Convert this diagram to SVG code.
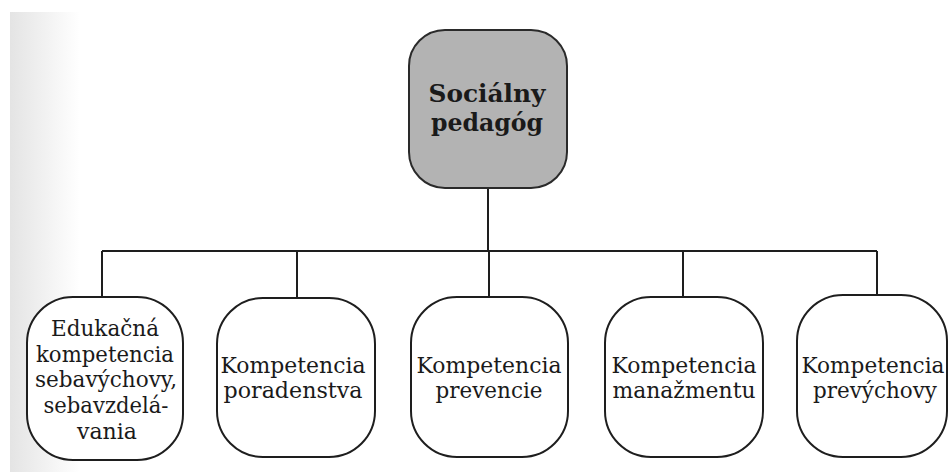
<svg xmlns="http://www.w3.org/2000/svg" width="949" height="472" viewBox="0 0 949 472">
<defs>
<linearGradient id="scan" x1="0" y1="0" x2="1" y2="0">
<stop offset="0" stop-color="#e4e4e4"/>
<stop offset="1" stop-color="#ffffff"/>
</linearGradient>
<style>
.box{fill:#ffffff;stroke:#1e1e1e;stroke-width:2}
.root{fill:#b3b3b3;stroke:#2a2a2a;stroke-width:2}
.t{font-family:"DejaVu Serif","Liberation Serif",serif;font-size:22px;fill:#1a1a1a;text-anchor:middle}
.tb{font-family:"DejaVu Serif","Liberation Serif",serif;font-size:25px;font-weight:bold;fill:#1a1a1a;text-anchor:middle}
.c{fill:none;stroke:#1e1e1e;stroke-width:2}
</style>
</defs>
<rect x="0" y="0" width="949" height="472" fill="#ffffff"/>
<rect x="10" y="12" width="70" height="460" fill="url(#scan)"/>
<g id="connectors">
<path class="c" d="M488 188 V251"/>
<path class="c" d="M102 251 H877"/>
<path class="c" d="M102 251 V297"/>
<path class="c" d="M297 251 V298"/>
<path class="c" d="M489 251 V297"/>
<path class="c" d="M683 251 V297"/>
<path class="c" d="M877 251 V295"/>
</g>
<g id="root">
<rect class="root" x="409" y="30" width="158" height="158" rx="36" ry="36"/>
<text class="tb" x="487" y="102" textLength="117" lengthAdjust="spacingAndGlyphs">Sociálny</text>
<text class="tb" x="487" y="131" textLength="112" lengthAdjust="spacingAndGlyphs">pedagóg</text>
</g>
<g id="n1">
<rect class="box" x="27" y="297" width="156" height="163" rx="46" ry="46"/>
<text class="t" x="105" y="336" textLength="108" lengthAdjust="spacingAndGlyphs">Edukačná</text>
<text class="t" x="105" y="362" textLength="138" lengthAdjust="spacingAndGlyphs">kompetencia</text>
<text class="t" x="106" y="387" textLength="142" lengthAdjust="spacingAndGlyphs">sebavýchovy,</text>
<text class="t" x="106" y="413" textLength="125" lengthAdjust="spacingAndGlyphs">sebavzdelá-</text>
<text class="t" x="107" y="439" textLength="60" lengthAdjust="spacingAndGlyphs">vania</text>
</g>
<g id="n2">
<rect class="box" x="217" y="298" width="158" height="159" rx="46" ry="46"/>
<text class="t" x="293" y="373" textLength="145" lengthAdjust="spacingAndGlyphs">Kompetencia</text>
<text class="t" x="293" y="398" textLength="139" lengthAdjust="spacingAndGlyphs">poradenstva</text>
</g>
<g id="n3">
<rect class="box" x="411" y="297" width="157" height="160" rx="46" ry="46"/>
<text class="t" x="489" y="373" textLength="145" lengthAdjust="spacingAndGlyphs">Kompetencia</text>
<text class="t" x="489" y="398" textLength="107" lengthAdjust="spacingAndGlyphs">prevencie</text>
</g>
<g id="n4">
<rect class="box" x="605" y="297" width="158" height="160" rx="46" ry="46"/>
<text class="t" x="684" y="373" textLength="145" lengthAdjust="spacingAndGlyphs">Kompetencia</text>
<text class="t" x="684" y="398" textLength="143" lengthAdjust="spacingAndGlyphs">manažmentu</text>
</g>
<g id="n5">
<rect class="box" x="797" y="295" width="150" height="162" rx="46" ry="46"/>
<text class="t" x="873" y="373" textLength="143" lengthAdjust="spacingAndGlyphs">Kompetencia</text>
<text class="t" x="875" y="398" textLength="124" lengthAdjust="spacingAndGlyphs">prevýchovy</text>
</g>
</svg>
